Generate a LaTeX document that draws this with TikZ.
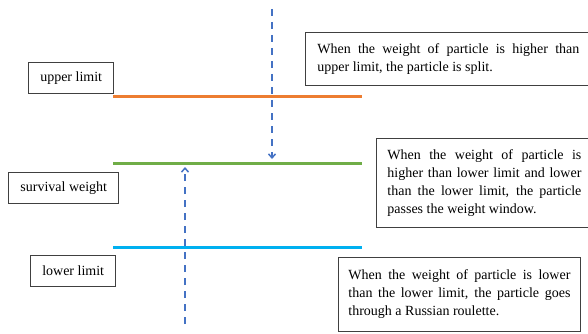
\documentclass[tikz,border=0pt]{standalone}
\usepackage{fontspec}
\setmainfont{Liberation Serif}
\usetikzlibrary{positioning, arrows.meta}
\definecolor{upperorange}{HTML}{ED7D31}
\definecolor{survgreen}{HTML}{70AD47}
\definecolor{lowerblue}{HTML}{00B0F0}
\definecolor{trackblue}{HTML}{4472C4}
\tikzset{
  levelbox/.style={rectangle, draw=black!75, line width=0.8pt, inner xsep=11.5pt, minimum height=31pt, font=\fontsize{14}{18}\selectfont},
  notebox/.style={rectangle, draw=black!75, line width=0.8pt, inner xsep=10pt, inner ysep=6pt, align=justify, font=\fontsize{14}{18}\selectfont},
  level/.style={line width=3pt},
  track/.style={trackblue, line width=1.5pt, dash pattern=on 7pt off 6pt, -{Straight Barb[length=4pt,width=7pt]}}
}
\begin{document}
\begin{tikzpicture}[x=1pt, y=-1pt]
  \useasboundingbox (0,0) rectangle (588,334);

  % the three weight levels
  \coordinate (upper-l) at (113,97);  \coordinate (upper-r) at (362,97);
  \coordinate (surv-l) at (113,163);  \coordinate (surv-r) at (362,163);
  \coordinate (lower-l) at (113,247); \coordinate (lower-r) at (362,247);
  \draw [level, upperorange] (upper-l) -- (upper-r);
  \draw [level, survgreen] (surv-l) -- (surv-r);
  \draw [level, lowerblue] (lower-l) -- (lower-r);

  \node (upper) [levelbox, anchor=south east] at (114,94) {upper limit};
  \node (surv) [levelbox, anchor=north east] at (119,172) {survival weight};
  \node (lower) [levelbox, anchor=north east] at (116,255) {lower limit};

  % explanations
  \node (split) [notebox, text width=262pt, inner xsep=12pt, minimum height=53pt, anchor=north west] at (305,32)
    {When the weight of particle is higher than\linebreak upper limit, the particle is split.};
  \node (pass) [notebox, text width=194pt, inner xsep=11pt, minimum height=89pt, anchor=north west] at (376,138)
    {When the weight of particle is\linebreak higher than lower limit and lower\linebreak than the lower limit, the particle\linebreak passes the weight window.};
  \node (roulette) [notebox, text width=222pt, minimum height=74pt, anchor=north west] at (338,257)
    {When the weight of particle is lower\linebreak than the lower limit, the particle goes\linebreak through a Russian roulette.};

  % particles moving towards the survival weight
  \coordinate (drop-top) at (272,9);   \coordinate (drop-end) at (272,159);
  \coordinate (rise-bot) at (185,324); \coordinate (rise-end) at (185,167);
  \draw [track] (drop-top) -- (drop-end);
  \draw [track] (rise-bot) -- (rise-end);
\end{tikzpicture}
\end{document}
